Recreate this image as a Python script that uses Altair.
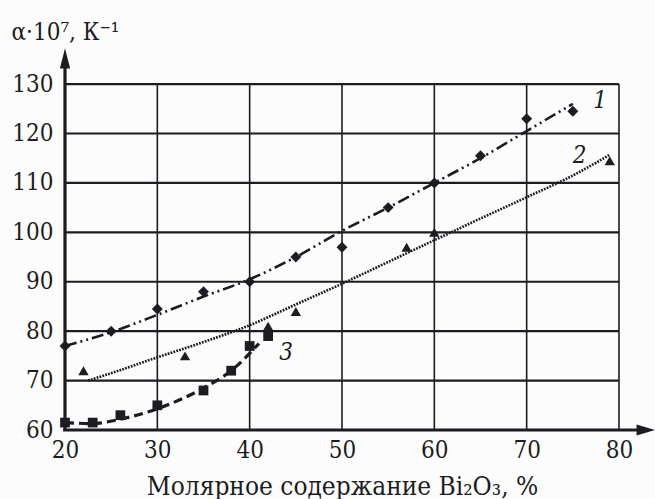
import altair as alt
import pandas as pd

# ---- data ----
x_ticks = [20, 30, 40, 50, 60, 70, 80]
y_ticks = [60, 70, 80, 90, 100, 110, 120, 130]

s1_x = [20, 25, 30, 35, 40, 45, 50, 55, 60, 65, 70, 75]
s1_y = [77, 80, 84.5, 88, 90, 95, 97, 105, 110, 115.5, 123, 124.5]
s2_x = [22, 33, 42, 45, 57, 60, 79]
s2_y = [72, 75, 81, 84, 97, 100, 114.5]
s3_x = [20, 23, 26, 30, 35, 38, 40, 42]
s3_y = [61.5, 61.5, 63, 65, 68, 72, 77, 79]

c1_x = [20, 25, 30, 35, 40, 45, 50, 55, 60, 65, 70, 75]
c1_y = [77, 79.8, 83.3, 87, 90.5, 95, 100.3, 105, 110, 115, 120.5, 126]
c2_x = [22.5, 25, 30, 35, 40, 45, 50, 55, 60, 65, 70, 75, 79]
c2_y = [70, 71.5, 74.7, 77.8, 81.2, 85.4, 89.6, 94, 98.4, 102.8, 107.1, 111.5, 115.7]
c3_x = [20, 23, 26, 30, 35, 38, 41]
c3_y = [61.5, 61.3, 62.2, 64.3, 68.5, 72, 77.5]

labels = ["1", "2", "3"]
label_x = [77.2, 75, 43.2]
label_y = [126.5, 115.5, 75.5]

x_title = "Молярное содержание Bi₂O₃, %"
y_title = "α·10⁷, К⁻¹"

# ---- layout ----
W, H = 590, 382
X_MAX = 83.9
Y_MAX = 137.3
INK = "#1c1c22"
FONT = "DejaVu Serif Condensed, DejaVu Serif"

xs = alt.Scale(domain=[20, X_MAX], nice=False, zero=False)
ys = alt.Scale(domain=[60, Y_MAX], nice=False, zero=False)

pts = pd.DataFrame({
    "x": s1_x + s2_x + s3_x,
    "y": s1_y + s2_y + s3_y,
    "s": ["1"] * len(s1_x) + ["2"] * len(s2_x) + ["3"] * len(s3_x),
})
curves = {
    "1": (c1_x, c1_y, [12, 4, 2, 4, 2, 4], 2.6),
    "2": (c2_x, c2_y, [1.8, 1.2], 2.6),
    "3": (c3_x, c3_y, [9, 5], 3.2),
}

vgrid = pd.DataFrame({"x": x_ticks[1:], "y0": min(y_ticks), "y1": max(y_ticks)})
hgrid = pd.DataFrame({"y": y_ticks[1:], "x0": min(x_ticks), "x1": max(x_ticks)})

xaxis = alt.Axis(values=x_ticks, grid=False, domain=False, ticks=False,
                 labelFont=FONT, labelFontSize=24, labelColor=INK, labelPadding=8,
                 title=x_title, titleFont=FONT, titleFontSize=26, titleFontWeight="normal",
                 titleColor=INK, titleX=277, titleY=56, titleBaseline="middle",
                 labelFlush=False)
yaxis = alt.Axis(values=y_ticks, grid=False, domain=False, ticks=False,
                 labelFont=FONT, labelFontSize=24, labelColor=INK, labelPadding=12,
                 title=y_title, titleFont=FONT, titleFontSize=24, titleFontWeight="normal",
                 titleColor=INK, titleAngle=0, titleAlign="left", titleBaseline="middle",
                 titleX=-54, titleY=-16)

base_x = alt.X("x:Q", scale=xs, axis=xaxis)
base_y = alt.Y("y:Q", scale=ys, axis=yaxis)

layers = []

vrule = alt.Chart(vgrid).mark_rule(color=INK, strokeWidth=1.6).encode(
    x=base_x, y=alt.Y("y0:Q", scale=ys, axis=yaxis), y2="y1:Q")
hrule = alt.Chart(hgrid).mark_rule(color=INK, strokeWidth=2.2).encode(
    y=base_y, x=alt.X("x0:Q", scale=xs, axis=xaxis), x2="x1:Q")
layers += [vrule, hrule]

# axes lines with arrows
yax = pd.DataFrame({"x": [20], "y0": [60], "y1": [133.5]})
xax = pd.DataFrame({"y": [60], "x0": [19.8], "x1": [82]})
layers.append(alt.Chart(yax).mark_rule(color=INK, strokeWidth=3.2).encode(
    x=base_x, y=alt.Y("y0:Q", scale=ys, axis=yaxis), y2="y1:Q"))
layers.append(alt.Chart(xax).mark_rule(color=INK, strokeWidth=3.2).encode(
    y=base_y, x=alt.X("x0:Q", scale=xs, axis=xaxis), x2="x1:Q"))

arrow_up = pd.DataFrame({"x": [20], "y": [135.2]})
arrow_rt = pd.DataFrame({"x": [82.9], "y": [60]})
layers.append(alt.Chart(arrow_up).mark_point(
    shape="M0,-1L0.5,1L-0.5,1Z", size=420, filled=True, color=INK, opacity=1).encode(x=base_x, y=base_y))
layers.append(alt.Chart(arrow_rt).mark_point(
    shape="M1,0L-1,-0.6L-1,0.6Z", size=340, filled=True, color=INK, opacity=1).encode(x=base_x, y=base_y))

for key, (cx, cy, dash, sw) in curves.items():
    df = pd.DataFrame({"x": cx, "y": cy})
    layers.append(alt.Chart(df).mark_line(
        color=INK, strokeDash=dash, strokeWidth=sw, interpolate="monotone").encode(x=base_x, y=base_y))

layers.append(alt.Chart(pts).mark_point(filled=True, color=INK, opacity=1).encode(
    x=base_x, y=base_y,
    shape=alt.Shape("s:N", scale=alt.Scale(domain=["1", "2", "3"],
                                            range=["diamond", "triangle-up", "square"]), legend=None),
    size=alt.Size("s:N", scale=alt.Scale(domain=["1", "2", "3"], range=[120, 95, 85]), legend=None),
))

lab = pd.DataFrame({"x": label_x, "y": label_y, "t": labels})
layers.append(alt.Chart(lab).mark_text(
    font=FONT, fontSize=24, fontStyle="italic", color=INK, align="left", baseline="middle").encode(
    x=base_x, y=base_y, text="t:N"))

chart = alt.layer(*layers).properties(
    width=W, height=H,
    autosize=alt.AutoSizeParams(type="none"),
    padding={"left": 65, "top": 48, "right": 0, "bottom": 69},
    background="#fcfcfd",
).configure_view(stroke=None)

chart.save("out.html", embed_options={"renderer": "svg", "actions": False})
